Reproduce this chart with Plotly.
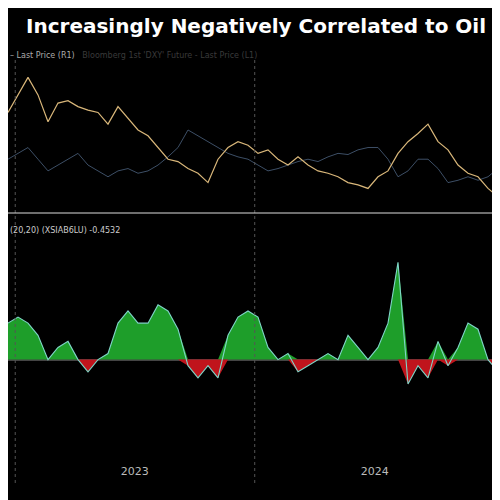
import pandas as pd
import plotly.graph_objects as go
from plotly.subplots import make_subplots

dates = pd.date_range("2022-12-21", "2025-01-21", periods=51)

oil = [95, 102.5, 110, 102.5, 91, 99, 100, 97.5, 96, 95, 90, 97.5, 92.5, 87.5, 85, 80, 75, 74, 71, 69,
       65, 75, 80, 82.5, 81, 77.5, 79, 75, 72.5, 76, 72.5, 70, 69, 67.5, 65, 64, 62.5, 67.5, 70, 77.5,
       82.5, 86, 90, 82.5, 79, 72.5, 69, 67.5, 62.5, 59, 55]
dxy = [75, 77.5, 80, 75, 70, 72.5, 75, 77.5, 72.5, 70, 67.5, 70, 71, 69, 70, 72.5, 76, 80, 87.5, 85,
       82.5, 80, 77.5, 76, 75, 72.5, 70, 71, 72.5, 74, 75, 74, 76, 77.5, 77, 79, 80, 80, 75, 67.5,
       70, 75, 75, 71, 65, 66, 67.5, 66, 67.5, 71, 75]
corr = [0.3, 0.35, 0.3, 0.2, 0.0, 0.1, 0.15, 0.0, -0.1, 0.0, 0.05, 0.3, 0.4, 0.3, 0.3, 0.45, 0.4, 0.25,
        -0.05, -0.15, -0.05, -0.15, 0.2, 0.35, 0.4, 0.35, 0.1, 0.0, 0.05, -0.1, -0.05, 0.0, 0.05, 0.0,
        0.2, 0.1, 0.0, 0.1, 0.3, 0.8, -0.2, -0.05, -0.15, 0.15, -0.05, 0.1, 0.3, 0.25, 0.0, -0.1, -0.2]
year_labels = ["2023", "2024"]
year_mid = ["2023-07-02", "2024-07-02"]
year_starts = ["2023-01-01", "2024-01-01", "2025-01-01"]

pos = [max(v, 0) for v in corr]
neg = [min(v, 0) for v in corr]

fig = make_subplots(rows=2, cols=1, shared_xaxes=True)
fig.add_trace(go.Scatter(x=dates, y=dxy, mode="lines", line=dict(color="#3d4f66", width=1)), row=1, col=1)
fig.add_trace(go.Scatter(x=dates, y=oil, mode="lines", line=dict(color="#d9b77a", width=1.2)), row=1, col=1)
fig.add_trace(go.Scatter(x=dates, y=pos, mode="lines", fill="tozeroy", fillcolor="#1e9e2a",
                         line=dict(width=0)), row=2, col=1)
fig.add_trace(go.Scatter(x=dates, y=neg, mode="lines", fill="tozeroy", fillcolor="#c0141c",
                         line=dict(width=0)), row=2, col=1)
fig.add_trace(go.Scatter(x=dates, y=corr, mode="lines", line=dict(color="#7fd6c8", width=1.1)), row=2, col=1)

xr = [dates[0], dates[-1]]
fig.update_layout(
    width=500, height=500, paper_bgcolor="black", plot_bgcolor="black",
    margin=dict(l=0, r=0, t=0, b=0), showlegend=False,
    xaxis=dict(domain=[0, 1], range=xr, showgrid=False, showticklabels=False),
    xaxis2=dict(domain=[0, 1], range=xr, showgrid=False,
                tickvals=year_mid, ticktext=year_labels, ticks="",
                tickfont=dict(color="#bbb", size=11, family="DejaVu Sans")),
    yaxis=dict(domain=[0.59, 0.88], range=[52, 114], showgrid=False, showticklabels=False, zeroline=False),
    yaxis2=dict(domain=[0.09, 0.54], range=[-0.85, 1.0], showgrid=False, showticklabels=False,
                zeroline=True, zerolinecolor="#444"),
    annotations=[
        dict(text="<b>Increasingly Negatively Correlated to Oil</b>", xref="paper", yref="paper",
             x=0.96, y=0.965, xanchor="right", yanchor="middle", showarrow=False,
             font=dict(color="white", size=20, family="DejaVu Sans")),
        dict(text="– Last Price (R1)   <span style='color:#3a3a3a'>Bloomberg 1st 'DXY' Future - Last Price (L1)</span>",
             xref="paper", yref="paper", x=0.0, y=0.905, xanchor="left", yanchor="middle", showarrow=False,
             font=dict(color="#aaa", size=8, family="DejaVu Sans")),
        dict(text="(20,20) (XSIAB6LU) -0.4532", xref="paper", yref="paper", x=0.0, y=0.555,
             xanchor="left", yanchor="middle", showarrow=False,
             font=dict(color="#ccc", size=8, family="DejaVu Sans")),
    ],
)
for d in year_starts:
    fig.add_shape(type="line", xref="x", yref="paper", x0=d, x1=d, y0=0.05, y1=0.9,
                  line=dict(color="#555", width=1, dash="dot"))
fig.add_shape(type="line", xref="paper", yref="paper", x0=0, x1=1, y0=0.59, y1=0.59,
              line=dict(color="#ddd", width=1))
fig.write_html("out.html")
